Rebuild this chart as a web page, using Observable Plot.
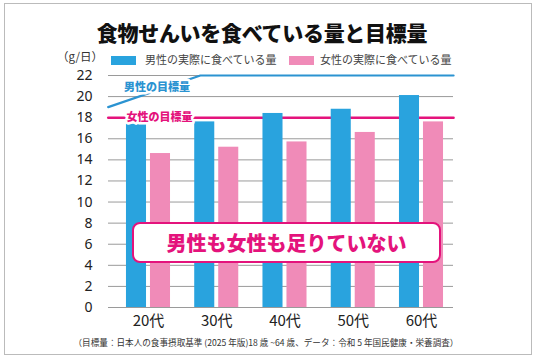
<!DOCTYPE html>
<html><head><meta charset="utf-8">
<script src="https://cdn.jsdelivr.net/npm/d3@7"></script>
<script src="https://cdn.jsdelivr.net/npm/@observablehq/plot@0.6"></script>
<style>
body{margin:0;background:#fff;font-family:"Noto Sans CJK JP","Noto Sans",sans-serif;}
#wrap{position:relative;width:536px;height:358px;overflow:hidden;background:#fff;}
.border{position:absolute;left:4px;top:3px;width:526px;height:350px;border:1px solid #bbb;}
.title{position:absolute;left:0;top:17px;width:524px;text-align:center;font-size:21px;font-weight:900;color:#111;line-height:30px;letter-spacing:-0.3px;}
.unit{position:absolute;left:57px;top:50px;font-size:11.5px;color:#333;line-height:13px;}
.leg{position:absolute;top:53px;font-size:11px;color:#444;line-height:13px;white-space:nowrap;}
.sw{position:absolute;top:56px;width:25px;height:9px;}
#chart{position:absolute;left:0;top:60px;}
.callout{position:absolute;left:132px;top:222px;width:309px;height:41px;box-sizing:border-box;border:2px solid #e4137c;border-radius:8px;background:#fff;color:#e4137c;font-size:20px;font-weight:900;text-align:center;line-height:37px;}
.caption{position:absolute;left:0;top:335px;width:532px;text-align:center;font-size:8.6px;color:#333;line-height:14px;white-space:nowrap;}
</style></head><body>
<div id="wrap">
  <div class="border"></div>
  <div class="title" id="title"></div>
  <div class="unit" id="unit"></div>
  <div class="sw" id="sw1" style="left:111px;"></div>
  <div class="leg" id="leg1" style="left:145px;"></div>
  <div class="sw" id="sw2" style="left:289px;"></div>
  <div class="leg" id="leg2" style="left:320px;"></div>
  <div id="chart"></div>
  <div class="callout" id="callout"></div>
  <div class="caption" id="caption"></div>
</div>
<script>
// ---- data ----
const ages = ["20代", "30代", "40代", "50代", "60代"];
const menActual = [17.4, 17.6, 18.4, 18.8, 20.1];
const womenActual = [14.6, 15.2, 15.7, 16.6, 17.6];
const yTicks = [0, 2, 4, 6, 8, 10, 12, 14, 16, 18, 20, 22];
// men's target line (x in age-group index units, y in g/day)
const menTargetX = [-0.59, 0.76, 4.47];
const menTargetY = [19, 22, 22];
const womenTarget = 18;
const seriesNames = ["男性の実際に食べている量", "女性の実際に食べている量"];
const targetLabels = ["男性の目標量", "女性の目標量"];
const titleText = "食物せんいを食べている量と目標量";
const unitText = "（g/日）";
const calloutText = "男性も女性も足りていない";
const captionText = "（目標量：日本人の食事摂取基準 (2025 年版)18 歳 ~64 歳、データ：令和 5 年国民健康・栄養調査）";

const BLUE = "#29a3de", PINK = "#f08bb8", BLUE_LINE = "#2b93d1", MAGENTA = "#e4137c";

document.getElementById("title").textContent = titleText;
document.getElementById("unit").textContent = unitText;
document.getElementById("leg1").textContent = seriesNames[0];
document.getElementById("leg2").textContent = seriesNames[1];
document.getElementById("sw1").style.background = BLUE;
document.getElementById("sw2").style.background = PINK;
document.getElementById("callout").textContent = calloutText;
document.getElementById("caption").textContent = captionText;

const menData = ages.map((a, i) => ({i, v: menActual[i]}));
const womenData = ages.map((a, i) => ({i, v: womenActual[i]}));
const menTarget = menTargetX.map((x, k) => ({x, y: menTargetY[k]}));
const womenLine = [{x: menTargetX[0], y: womenTarget}, {x: menTargetX[2], y: womenTarget}];

const chart = Plot.plot({
  width: 536,
  height: 273,
  marginLeft: 108,
  marginRight: 83,
  marginTop: 15,
  marginBottom: 26,
  style: {fontFamily: '"Noto Sans CJK JP","Noto Sans",sans-serif', fontSize: "14px", color: "#222", background: "transparent"},
  x: {type: "linear", domain: [-0.586, 4.469], axis: null},
  y: {domain: [0, 22], axis: null},
  marks: [
    Plot.ruleY(yTicks, {stroke: "#9a9a9a", strokeWidth: 1}),
    Plot.line(womenLine, {x: "x", y: "y", stroke: MAGENTA, strokeWidth: 2.5}),
    Plot.line(menTarget, {x: "x", y: "y", stroke: BLUE_LINE, strokeWidth: 2.2}),
    Plot.rectY(menData, {x1: d => d.i - 0.5, x2: d => d.i + 0.5, y1: 0, y2: "v", insetLeft: 12.1, insetRight: 36.1, fill: BLUE}),
    Plot.rectY(womenData, {x1: d => d.i - 0.5, x2: d => d.i + 0.5, y1: 0, y2: "v", insetLeft: 36.1, insetRight: 12.1, fill: PINK}),
    Plot.text([targetLabels[0]], {x: 0.125, y: 20.9, text: d => d, fill: BLUE_LINE, stroke: "white", strokeWidth: 5, fontSize: 11, fontWeight: 900}),
    Plot.text([targetLabels[1]], {x: 0.16, y: womenTarget, text: d => d, fill: MAGENTA, stroke: "white", strokeWidth: 5, fontSize: 11, fontWeight: 900}),
    Plot.axisY(yTicks, {tickSize: 0, tickPadding: 16, fontSize: 14, fontFamily: '"Noto Sans",sans-serif', fill: "#222", label: null}),
    Plot.axisX(ages.map((a, i) => i), {tickSize: 0, tickPadding: 8, fontSize: 15, fill: "#222", tickFormat: i => ages[i], label: null})
  ]
});
document.getElementById("chart").appendChild(chart);
</script>
</body></html>
